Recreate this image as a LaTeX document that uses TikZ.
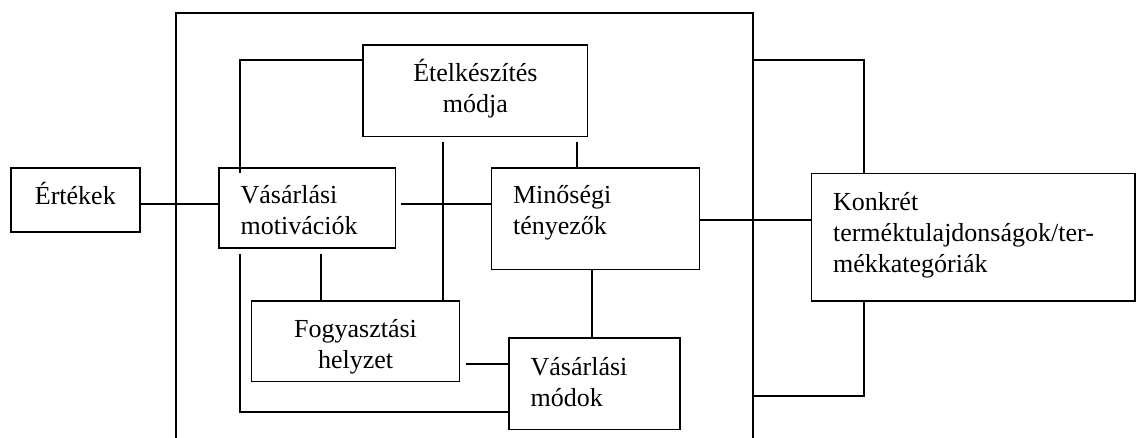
\documentclass[tikz,border=0pt]{standalone}
\usepackage{fontspec}
\setmainfont{Liberation Serif}
\begin{document}
\begin{tikzpicture}[x=1pt,y=-1pt,
  ln/.style={line width=1.7pt},
  box/.style={draw,line width=1.7pt,inner ysep=0pt,anchor=north west,
    font=\fontsize{26}{31}\selectfont},
  cbox/.style={box,inner xsep=0pt,align=center},
  lbox/.style={box,inner xsep=21.5pt,align=left}]
\useasboundingbox (0,0) rectangle (1136,438);
% frame (open at the bottom edge of the picture)
\draw[ln] (176,460) -- (176,12.7) -- (752.7,12.7) -- (752.7,460);
\coordinate (frL) at (176,0);
\coordinate (frR) at (752.7,0);
% boxes
\node[cbox,text width=129pt,text height=36.7pt,text depth=27pt] (ert) at (10,167.3) {Értékek};
\node[cbox,text width=224.4pt,text height=36.7pt,text depth=54.7pt] (etel) at (362.3,44.3) {Ételkészítés\\módja};
\node[lbox,text width=133.4pt,text height=35.4pt,text depth=44.6pt] (motiv) at (218.3,167.3) {Vásárlási\\motivációk};
\node[lbox,text width=165pt,text height=35.4pt,text depth=66pt] (mino) at (490.7,167.3) {Minőségi\\tényezők};
\node[cbox,text width=208pt,text height=36.7pt,text depth=44pt] (fogy) at (250.7,300) {Fogyasztási\\helyzet};
\node[lbox,text width=128pt,text height=37.4pt,text depth=54pt] (modok) at (508.3,337.3) {Vásárlási\\módok};
\node[lbox,text width=280.3pt,text height=37.3pt,text depth=90pt] (konk) at (810.7,172.7) {Konkrét\\terméktulajdonságok/ter-\\mékkategóriák};
% helper coordinates
\coordinate (yA) at (0,204);
\coordinate (yB) at (0,60.3);
\coordinate (yC) at (0,412);
\coordinate (yD) at (0,364);
\coordinate (yE) at (0,220);
\coordinate (yF) at (0,396.3);
\coordinate (xA) at (240.3,0);
\coordinate (xB) at (442.7,0);
\coordinate (xC) at (576.7,0);
\coordinate (xD) at (320.7,0);
\coordinate (xE) at (592.3,0);
\coordinate (xF) at (864.3,0);
% connectors
\draw[ln] (ert.east |- yA) -- (motiv.west |- yA);
\draw[ln] (etel.west |- yB) -| ([yshift=-6pt]motiv.north -| xA);
\draw[ln] ([yshift=-4.3pt]etel.south -| xB) -- (fogy.north -| xB);
\draw[ln] ([yshift=-4.3pt]etel.south -| xC) -- (mino.north -| xC);
\draw[ln] ([xshift=4.6pt]motiv.east |- yA) -- (mino.west |- yA);
\draw[ln] ([yshift=-4.7pt]motiv.south -| xA) -- (xA |- yC) -- (modok.west |- yC);
\draw[ln] ([yshift=-4.7pt]motiv.south -| xD) -- (fogy.north -| xD);
\draw[ln] ([xshift=5.3pt]fogy.east |- yD) -- (modok.west |- yD);
\draw[ln] (mino.south -| xE) -- (modok.north -| xE);
\draw[ln] (mino.east |- yE) -- (konk.west |- yE);
\draw[ln] (frR |- yB) -- (xF |- yB) -- (konk.north -| xF);
\draw[ln] (konk.south -| xF) -- (xF |- yF) -- (frR |- yF);
\end{tikzpicture}
\end{document}
